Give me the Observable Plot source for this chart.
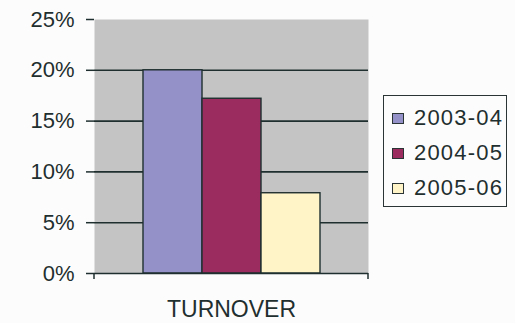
<!DOCTYPE html>
<html>
<head>
<meta charset="utf-8">
<script src="https://cdn.jsdelivr.net/npm/d3@7"></script>
<script src="https://cdn.jsdelivr.net/npm/@observablehq/plot@0.6"></script>
<style>
  html, body { margin: 0; padding: 0; background: #fdfcfc; }
  #wrap { position: relative; width: 515px; height: 323px; overflow: hidden; }
  #legend {
    position: absolute; left: 383px; top: 95px; width: 124px; height: 112px;
    border: 1.5px solid #2a3434; box-sizing: border-box; overflow: hidden;
    font-family: "Liberation Sans", Arial, sans-serif; font-size: 22px; color: #1f2f2f;
  }
  #legend .row { position: absolute; left: 8px; height: 24px; display: flex; align-items: center; white-space: nowrap; }
  #legend .sw { width: 10px; height: 9px; border: 1.4px solid #2a3434; margin-right: 10px; flex: none; }
  #legend .lab { letter-spacing: 1.2px; }
</style>
</head>
<body>
<div id="wrap"></div>
<script>
// Turnover growth by financial year
const category = "TURNOVER";
const years = ["2003-04", "2004-05", "2005-06"];
const turnover = [0.20, 0.172, 0.079];
const colors = ["#9490c8", "#9a2c60", "#fff4c8"];
const yTicks = [0, 0.05, 0.10, 0.15, 0.20, 0.25];

const rows = years.map((year, i) => ({category, year, value: turnover[i]}));

const ink = "#1f2f2f";
const fontFamily = "Liberation Sans, Arial, sans-serif";

const chart = Plot.plot({
  width: 515,
  height: 323,
  marginLeft: 94,
  marginRight: 147,
  marginTop: 19,
  marginBottom: 50,
  style: {background: "transparent", fontFamily, color: ink},
  fx: {domain: [category], padding: 0, axis: null},
  x: {domain: years, paddingInner: 0, paddingOuter: 0.81, axis: null},
  y: {domain: [0, 0.25], axis: null},
  color: {domain: years, range: colors},
  marks: [
    // grey plot area
    Plot.frame({fill: "#c4c4c4", stroke: null}),
    // horizontal gridlines
    Plot.ruleY(yTicks.filter(d => d > 0 && d < 0.25), {stroke: ink, strokeWidth: 1.6}),
    // bars
    Plot.barY(rows, {fx: "category", x: "year", y: "value", fill: "year", stroke: ink, strokeWidth: 1.4}),
    // left value axis with ticks pointing outward
    Plot.axisY(yTicks, {
      tickFormat: d3.format(".0%"), tickSize: 8, tickPadding: 12,
      fontSize: 22, stroke: ink, strokeWidth: 1.5, fill: ink, label: null
    }),
    Plot.ruleX([0], {stroke: ink, strokeWidth: 1.6, y1: 0, y2: 0.25}),
    // baseline
    Plot.ruleY([0], {stroke: ink, strokeWidth: 1.6}),
    // category label below the baseline
    Plot.axisFx({
      anchor: "bottom", tickSize: 0, tickPadding: 27, fontSize: 23, fill: ink, label: null
    })
  ]
});

const wrap = document.getElementById("wrap");
wrap.appendChild(chart);

// small outward ticks at both ends of the category axis
const sx0 = 94, sx1 = 515 - 147, sy = 323 - 50;
const svg = d3.select(chart);
[sx0, sx1].forEach(x => {
  svg.append("line").attr("x1", x).attr("x2", x).attr("y1", sy).attr("y2", sy + 6)
    .attr("stroke", ink).attr("stroke-width", 1.5);
});

// series legend
const legend = d3.select(wrap).append("div").attr("id", "legend");
years.forEach((year, i) => {
  const row = legend.append("div").attr("class", "row").style("top", (10 + i * 35) + "px");
  row.append("div").attr("class", "sw").style("background", colors[i]);
  row.append("span").attr("class", "lab").text(year);
});
</script>
</body>
</html>
